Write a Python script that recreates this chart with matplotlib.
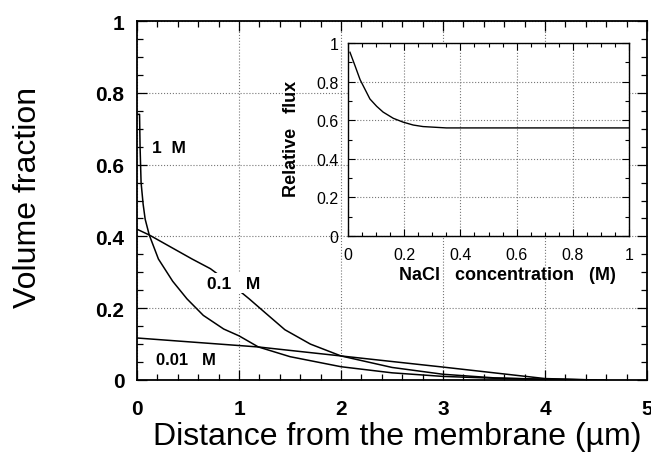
#Volume fraction profiles near the membrane + inset relative flux
import numpy as np
import matplotlib.pyplot as plt
from matplotlib.ticker import MultipleLocator

plt.rcParams['font.family'] = ['Liberation Sans', 'DejaVu Sans']

# 1 M NaCl profile
x_1M = [0.0, 0.025, 0.03, 0.04, 0.06, 0.08, 0.12, 0.21, 0.35, 0.49, 0.65, 0.85, 1.0,
        1.19, 1.5, 2.0, 2.5, 3.0, 3.5, 4.0, 4.5]
y_1M = [0.74, 0.74, 0.65, 0.55, 0.49, 0.448, 0.404, 0.337, 0.275, 0.226, 0.18, 0.142, 0.123,
        0.092, 0.065, 0.037, 0.02, 0.01, 0.005, 0.002, 0.0]

# 0.1 M NaCl profile
x_01M = [0.0, 0.12, 0.54, 0.72, 0.9, 1.04, 1.1, 1.25, 1.45, 1.7, 2.0, 2.5, 3.0, 3.5, 4.0, 4.6]
y_01M = [0.42, 0.404, 0.337, 0.31, 0.272, 0.24, 0.226, 0.189, 0.14, 0.10, 0.067, 0.035,
         0.016, 0.006, 0.002, 0.0]

# 0.01 M NaCl profile
x_001M = [0.0, 1.19, 2.0, 3.0, 3.5, 4.0, 4.5]
y_001M = [0.117, 0.092, 0.067, 0.036, 0.02, 0.004, 0.0]

# inset: relative flux vs NaCl concentration
conc = [0.007, 0.025, 0.043, 0.078, 0.102, 0.125, 0.161, 0.196, 0.232, 0.267, 0.35, 1.0]
flux = [0.952, 0.882, 0.81, 0.71, 0.672, 0.642, 0.61, 0.59, 0.575, 0.567, 0.56, 0.56]

fig = plt.figure(figsize=(6.51, 4.6), dpi=100)
ax = fig.add_axes([137/651, 79/460, 510/651, 359/460])

lw = 1.1
ax.plot(x_1M, y_1M, 'k-', lw=lw, zorder=3)
ax.plot(x_01M, y_01M, 'k-', lw=lw, zorder=3)
ax.plot(x_001M, y_001M, 'k-', lw=lw, zorder=3)

ax.text(0.315, 0.649, '1  M', fontsize=12.5, fontweight='bold', ha='center', va='center')
ax.text(0.95, 0.27, '0.1   M', fontsize=12.5, fontweight='bold', ha='center', va='center',
        zorder=4, bbox=dict(facecolor='white', edgecolor='none', pad=2))
ax.text(0.48, 0.057, '0.01   M', fontsize=12, fontweight='bold', ha='center', va='center')

ax.set_xlim(0, 5)
ax.set_ylim(0, 1)
ax.xaxis.set_major_locator(MultipleLocator(1))
ax.xaxis.set_minor_locator(MultipleLocator(0.2))
ax.yaxis.set_major_locator(MultipleLocator(0.2))
ax.yaxis.set_minor_locator(MultipleLocator(0.05))
ax.set_yticks([0, 0.2, 0.4, 0.6, 0.8, 1])
ax.set_yticklabels(['0', '0.2', '0.4', '0.6', '0.8', '1'])
ax.tick_params(which='both', direction='in', top=True, right=True, width=0.9)
ax.tick_params(which='major', length=7)
ax.tick_params(which='minor', length=4)
ax.tick_params(axis='x', which='major', pad=14, labelsize=15)
ax.tick_params(axis='y', which='major', pad=9, labelsize=15)
for lab in ax.get_xticklabels() + ax.get_yticklabels():
    lab.set_fontweight('bold')
for s in ax.spines.values():
    s.set_linewidth(1.3)
ax.grid(True, which='major', linestyle=':', color='#777777', linewidth=0.8)

ax.set_xlabel('Distance from the membrane (\u00b5m)', fontsize=23)
ax.set_ylabel('Volume fraction', fontsize=23)
ax.xaxis.set_label_coords(0.511, -0.115)
ax.yaxis.set_label_coords(-0.185, 0.51)

# Inset
ins = fig.add_axes([348/651, 223/460, 281/651, 193/460])
ins.set_facecolor('white')
ins.plot(conc, flux, 'k-', lw=1.0)
ins.set_xlim(0, 1)
ins.set_ylim(0, 1)
ins.xaxis.set_major_locator(MultipleLocator(0.2))
ins.xaxis.set_minor_locator(MultipleLocator(0.05))
ins.yaxis.set_major_locator(MultipleLocator(0.2))
ins.yaxis.set_minor_locator(MultipleLocator(0.1))
ins.set_xticks([0, 0.2, 0.4, 0.6, 0.8, 1])
ins.set_xticklabels(['0', '0.2', '0.4', '0.6', '0.8', '1'])
ins.set_yticks([0, 0.2, 0.4, 0.6, 0.8, 1])
ins.set_yticklabels(['0', '0.2', '0.4', '0.6', '0.8', '1'])
ins.tick_params(which='both', direction='in', top=True, right=True, width=0.8, labelsize=11.5)
ins.tick_params(which='major', length=5)
ins.tick_params(which='minor', length=3)
ins.tick_params(axis='x', pad=8)
ins.tick_params(axis='y', pad=7)
for s in ins.spines.values():
    s.set_linewidth(1.0)
ins.grid(True, which='major', linestyle=':', color='#777777', linewidth=0.8)
ins.set_xlabel('NaCl   concentration   (M)', fontsize=13, fontweight='bold')
ins.set_ylabel('Relative   flux', fontsize=13, fontweight='bold')
ins.xaxis.set_label_coords(0.566, -0.155)
ins.yaxis.set_label_coords(-0.17, 0.51)

fig.savefig('out.png', dpi=100)
